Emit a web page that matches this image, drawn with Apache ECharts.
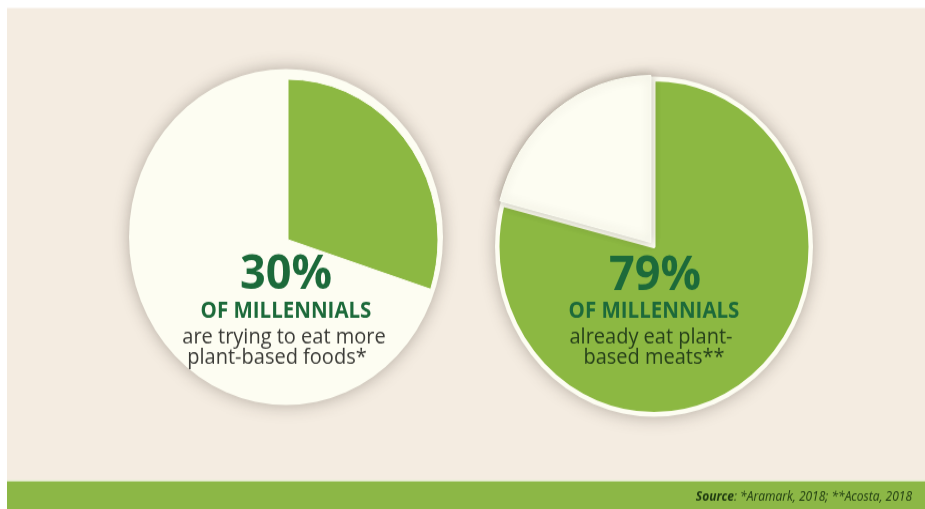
<!DOCTYPE html>
<html>
<head>
<meta charset="utf-8">
<style>
  html, body { margin: 0; padding: 0; background: #ffffff; overflow: hidden; }
  #wrap { width: 925px; height: 509px; overflow: hidden; }
  /* the artwork is drawn slightly taller than wide */
  #chart { width: 925px; height: 476px; transform: scaleY(1.07); transform-origin: 0 0; }
</style>
<script src="https://cdn.jsdelivr.net/npm/echarts@6/dist/echarts.min.js"></script>
</head>
<body>
<div id="wrap"><div id="chart"></div></div>
<script>
// Survey shares (percent of millennials)
const leftLabels = ['Trying to eat more plant-based foods', 'Other'];
const leftValues = [30, 70];
const rightLabels = ['Already eat plant-based meats', 'Other'];
const rightValues = [79, 21];

const headline = 'OF MILLENNIALS';
const leftText = ['are trying to eat more', 'plant-based foods*'];
const rightText = ['already eat plant-', 'based meats**'];
const sourceNote = '*Aramark, 2018; **Acosta, 2018';

const GREEN = '#8cb842';
const CREAM = '#fdfdf2';
const DARK = '#1c6a3a';

const chart = echarts.init(document.getElementById('chart'), null, { renderer: 'canvas' });

const plate = (center, r) => ({
  type: 'pie', silent: true, center: center, radius: r, z: 1,
  label: { show: false }, labelLine: { show: false },
  data: [{ value: 1, itemStyle: { color: CREAM, shadowBlur: 16, shadowColor: 'rgba(60,50,40,0.35)' } }]
});

const option = {
  animation: false,
  graphic: [
    { type: 'rect', shape: { x: 7, y: 7.5, width: 918, height: 442 }, style: { fill: '#f4ece1' }, z: -10 },
    { type: 'rect', shape: { x: 7, y: 449.5, width: 918, height: 30 }, style: { fill: '#8cb746' }, z: -10 },
    { type: 'rect', shape: { x: 7, y: 448.5, width: 918, height: 1.2 }, style: { fill: '#e9f0d6' }, z: -9 },
    // left annotation
    { type: 'text', x: 286, y: 257, z: 20,
      style: { text: leftValues[0] + '%', align: 'center', verticalAlign: 'middle',
        font: 'bold 45px "Open Sans"', fill: DARK } },
    { type: 'text', x: 286, y: 291.5, z: 20,
      style: { text: headline, align: 'center', verticalAlign: 'middle', font: 'bold 20.5px "Open Sans"', fill: DARK } },
    { type: 'text', x: 284, y: 315.5, z: 20,
      style: { text: leftText[0], align: 'center', verticalAlign: 'middle', font: '20px "Open Sans"', fill: '#3b3b37' } },
    { type: 'text', x: 277, y: 334.5, z: 20,
      style: { text: leftText[1], align: 'center', verticalAlign: 'middle', font: '20px "Open Sans"', fill: '#3b3b37' } },
    // right annotation
    { type: 'text', x: 655, y: 258, z: 20,
      style: { text: rightValues[0] + '%', align: 'center', verticalAlign: 'middle', font: 'bold 45px "Open Sans"', fill: DARK } },
    { type: 'text', x: 654, y: 291.5, z: 20,
      style: { text: headline, align: 'center', verticalAlign: 'middle', font: 'bold 20.5px "Open Sans"', fill: DARK } },
    { type: 'text', x: 651, y: 315.5, z: 20,
      style: { text: rightText[0], align: 'center', verticalAlign: 'middle', font: '20px "Open Sans"', fill: '#26401a' } },
    { type: 'text', x: 654, y: 334.5, z: 20,
      style: { text: rightText[1], align: 'center', verticalAlign: 'middle', font: '20px "Open Sans"', fill: '#26401a' } },
    // source line
    { type: 'text', x: 912, y: 465, z: 20,
      style: {
        text: '{b|Source}{n|: ' + sourceNote + '}', align: 'right', verticalAlign: 'middle',
        rich: {
          b: { font: 'italic bold 12px "Open Sans"', fill: '#1e3a10' },
          n: { font: 'italic 12px "Open Sans"', fill: '#1e3a10' }
        }
      } }
  ],
  series: [
    plate([286, 221.5], 157),
    {
      type: 'pie', silent: true, center: [288, 224], radius: 150, z: 2,
      startAngle: 90, clockwise: true,
      label: { show: false }, labelLine: { show: false },
      data: [
        { name: leftLabels[0], value: leftValues[0], itemStyle: { color: GREEN, borderColor: CREAM, borderWidth: 1 } },
        { name: leftLabels[1], value: leftValues[1], itemStyle: { color: 'rgba(0,0,0,0)' } }
      ]
    },
    plate([654, 230.5], 159),
    {
      type: 'pie', silent: true, center: [654, 230.5], radius: 156, z: 2,
      startAngle: 90, clockwise: true, selectedMode: 'single', selectedOffset: 5,
      label: { show: false }, labelLine: { show: false },
      data: [
        { name: rightLabels[0], value: rightValues[0], itemStyle: { color: GREEN, borderColor: CREAM, borderWidth: 3 } },
        { name: rightLabels[1], value: rightValues[1], selected: true,
          itemStyle: { color: CREAM, borderColor: CREAM, borderWidth: 1, shadowBlur: 10, shadowColor: 'rgba(60,50,40,0.3)' } }
      ]
    }
  ]
};

chart.setOption(option);
</script>
</body>
</html>
